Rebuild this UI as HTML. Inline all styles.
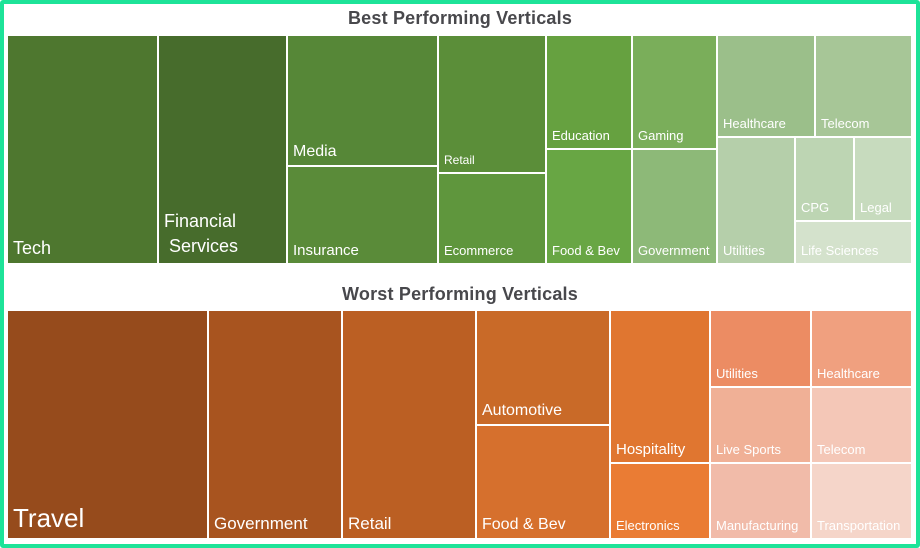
<!DOCTYPE html><html><head><style>
body{margin:0;width:920px;height:548px;overflow:hidden;background:#fff;font-family:"Liberation Sans",sans-serif}
#f{position:absolute;left:0;top:0;width:912px;height:540px;border:4px solid #1de398;border-radius:3px;background:#fff}
.t{position:absolute;color:#fff;box-sizing:border-box}
.t span{position:absolute;left:5px;bottom:4px;line-height:1.15;white-space:nowrap}
h1{position:absolute;margin:0;width:920px;text-align:center;font:bold 18px "Liberation Sans",sans-serif;color:#48484c;letter-spacing:0.2px}
</style></head><body><div id="f"></div>
<h1 style="top:8px">Best Performing Verticals</h1>
<h1 style="top:284px">Worst Performing Verticals</h1>
<div class="t" style="left:8px;top:36px;width:149px;height:227px;background:#4e772f"><span style="font-size:18px">Tech</span></div>
<div class="t" style="left:159px;top:36px;width:127px;height:227px;background:#476c2c"><span style="font-size:18px;line-height:1.4">Financial<br>&nbsp;Services</span></div>
<div class="t" style="left:288px;top:36px;width:149px;height:129px;background:#568737"><span style="font-size:16px">Media</span></div>
<div class="t" style="left:288px;top:167px;width:149px;height:96px;background:#5a8b39"><span style="font-size:15px">Insurance</span></div>
<div class="t" style="left:439px;top:36px;width:106px;height:136px;background:#5b8e39"><span style="font-size:12px">Retail</span></div>
<div class="t" style="left:439px;top:174px;width:106px;height:89px;background:#5f963d"><span style="font-size:13px">Ecommerce</span></div>
<div class="t" style="left:547px;top:36px;width:84px;height:112px;background:#66a140"><span style="font-size:13px">Education</span></div>
<div class="t" style="left:547px;top:150px;width:84px;height:113px;background:#68a644"><span style="font-size:13px">Food &amp; Bev</span></div>
<div class="t" style="left:633px;top:36px;width:83px;height:112px;background:#7aae5a"><span style="font-size:13px">Gaming</span></div>
<div class="t" style="left:633px;top:150px;width:83px;height:113px;background:#8db978"><span style="font-size:13px">Government</span></div>
<div class="t" style="left:718px;top:36px;width:96px;height:100px;background:#9bbf8a"><span style="font-size:13px">Healthcare</span></div>
<div class="t" style="left:816px;top:36px;width:95px;height:100px;background:#a7c697"><span style="font-size:13px">Telecom</span></div>
<div class="t" style="left:718px;top:138px;width:76px;height:125px;background:#b5cfaa"><span style="font-size:13px">Utilities</span></div>
<div class="t" style="left:796px;top:138px;width:57px;height:82px;background:#bdd5b3"><span style="font-size:13px">CPG</span></div>
<div class="t" style="left:855px;top:138px;width:56px;height:82px;background:#c7dbbe"><span style="font-size:13px">Legal</span></div>
<div class="t" style="left:796px;top:222px;width:115px;height:41px;background:#d4e2cc"><span style="font-size:13px">Life Sciences</span></div>

<div class="t" style="left:8px;top:311px;width:199px;height:227px;background:#964b1c"><span style="font-size:26px">Travel</span></div>
<div class="t" style="left:209px;top:311px;width:132px;height:227px;background:#a8541f"><span style="font-size:17px">Government</span></div>
<div class="t" style="left:343px;top:311px;width:132px;height:227px;background:#bb5f23"><span style="font-size:17px">Retail</span></div>
<div class="t" style="left:477px;top:311px;width:132px;height:113px;background:#c96a28"><span style="font-size:16px">Automotive</span></div>
<div class="t" style="left:477px;top:426px;width:132px;height:112px;background:#d6702d"><span style="font-size:16px">Food &amp; Bev</span></div>
<div class="t" style="left:611px;top:311px;width:98px;height:151px;background:#e07630"><span style="font-size:15px">Hospitality</span></div>
<div class="t" style="left:611px;top:464px;width:98px;height:74px;background:#ea7c34"><span style="font-size:13px">Electronics</span></div>
<div class="t" style="left:711px;top:311px;width:99px;height:75px;background:#ec8c63"><span style="font-size:13px">Utilities</span></div>
<div class="t" style="left:812px;top:311px;width:99px;height:75px;background:#f0a07f"><span style="font-size:13px">Healthcare</span></div>
<div class="t" style="left:711px;top:388px;width:99px;height:74px;background:#f0b096"><span style="font-size:13px">Live Sports</span></div>
<div class="t" style="left:812px;top:388px;width:99px;height:74px;background:#f4c7b7"><span style="font-size:13px">Telecom</span></div>
<div class="t" style="left:711px;top:464px;width:99px;height:74px;background:#f1bba9"><span style="font-size:13px">Manufacturing</span></div>
<div class="t" style="left:812px;top:464px;width:99px;height:74px;background:#f5d5c9"><span style="font-size:13px">Transportation</span></div>
</body></html>
